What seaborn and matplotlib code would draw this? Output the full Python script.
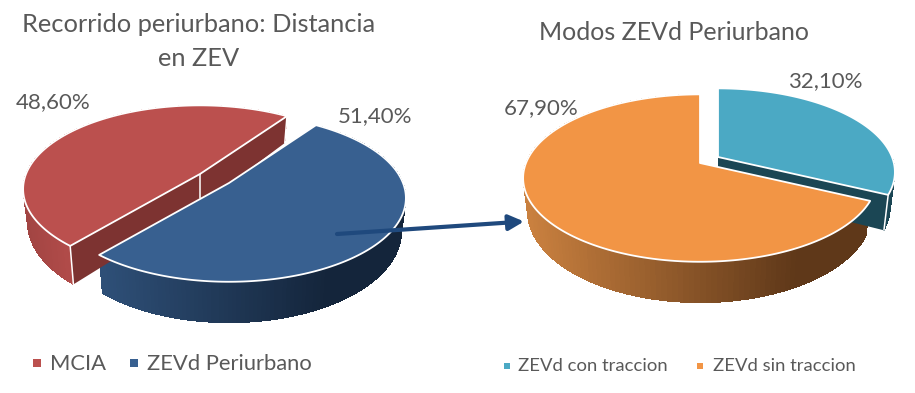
import numpy as np
import seaborn as sns
import matplotlib.pyplot as plt
from matplotlib.patches import Polygon

# Data
left_names = ['MCIA', 'ZEVd Periurbano']
left_values = [48.6, 51.4]
right_names = ['ZEVd con traccion', 'ZEVd sin traccion']
right_values = [32.1, 67.9]

sns.set_theme(style='white')
plt.rcParams['font.family'] = ['Lato', 'DejaVu Sans']

RED, BLUE, TEAL, ORANGE = '#BB504E', '#386090', '#4BA9C4', '#F29545'
GREY = '#595959'

# tilted disc: far side is smaller than near side
A, B, K = 174, 81, 0.18
DEPTH, SCALE_X, SCALE_Y = 32, 0.975, 1.09

fig = plt.figure(figsize=(9.15, 3.93), dpi=100)
ax = fig.add_axes([0, 0, 1, 1])
ax.set_xlim(0, 915)
ax.set_ylim(393, 0)
ax.axis('off')


def top_pt(c, t):
    t = np.radians(t)
    d = 1 + K * np.cos(t)
    return np.column_stack([c[0] + A * np.sin(t) / d, c[1] - B * np.cos(t) / d])


def low_pt(c, t):
    p = top_pt(c, t)
    return np.column_stack([c[0] + (p[:, 0] - c[0]) * SCALE_X,
                            c[1] + DEPTH + (p[:, 1] - c[1]) * SCALE_Y])


def draw_side(c, t0, t1, col_a, col_b, x0, x1):
    ts = np.linspace(t0, t1, 160)
    top, low = top_pt(c, ts), low_pt(c, ts)
    pal = sns.blend_palette([col_a, col_b], 100)
    for i in range(len(ts) - 1):
        f = (top[i, 0] - x0) / (x1 - x0)
        col = pal[int(np.clip(f, 0, 0.99) * 100)]
        # overlap the next strip so no seams show
        j = min(i + 2, len(ts) - 1)
        ax.add_patch(Polygon([top[i], top[j], low[j], low[i]], fc=col, ec='none', antialiased=False, zorder=2))


def draw_cut(c, t, col, zorder=3):
    a, b = top_pt(c, t), low_pt(c, t)
    ax.add_patch(Polygon([c, a[0], b[0], (c[0], c[1] + DEPTH)], fc=col, ec='none', zorder=zorder))
    ax.plot([a[0, 0], b[0, 0]], [a[0, 1], b[0, 1]], color='white', lw=1.1, zorder=zorder)


def draw_top(c, t0, t1, col, zorder=4):
    ts = np.linspace(t0, t1, 200)
    ax.add_patch(Polygon(np.vstack([[c], top_pt(c, ts)]), fc=col, ec='white', lw=1.3, joinstyle='round', zorder=zorder))


def pct(v):
    return f'{v:.2f}%'.replace('.', ',')


# left pie
left_start = 35
t_red = left_start - left_values[0] * 3.6
t_blue = left_start + left_values[1] * 3.6
c_red, c_blue = (200, 174), (229, 183)
draw_side(c_red, t_red, left_start, '#A24543', '#B84E4C', 25, 90)
draw_cut(c_red, t_red, '#7D3331')
draw_cut(c_red, left_start, '#7D3331')
ax.plot([c_red[0], c_red[0]], [c_red[1], c_red[1] + DEPTH - 8], color='white', lw=1.1, zorder=3)
draw_top(c_red, t_red, left_start, RED)
draw_side(c_blue, left_start, t_blue, '#14253B', '#2E4F77', 330, 103)
draw_top(c_blue, left_start, t_blue, BLUE, zorder=5)

# right pie
t_teal = right_values[0] * 3.6
c_orange, c_teal = (700, 163), (718, 157)
draw_side(c_teal, 90, t_teal, '#1B4654', '#1B4654', 0, 1)
draw_cut(c_teal, t_teal, '#1B4654')
draw_top(c_teal, 0, t_teal, TEAL)
draw_side(c_orange, t_teal, 360, '#5F3819', '#C9803F', 800, 527)
draw_top(c_orange, t_teal, 360, ORANGE, zorder=5)

# arrow between the pies
ax.annotate('', xy=(524, 221.5), xytext=(337, 234),
            arrowprops=dict(arrowstyle='-|>,head_length=0.75,head_width=0.38', color='#1F497D', lw=3,
                            shrinkA=0, shrinkB=0), zorder=6)

# text
ax.text(199, 25, 'Recorrido periurbano: Distancia', ha='center', va='center', fontsize=18.3, color=GREY)
ax.text(199, 58, 'en ZEV', ha='center', va='center', fontsize=18.3, color=GREY)
ax.text(674, 33, 'Modos ZEVd Periurbano', ha='center', va='center', fontsize=18, color=GREY)

ax.text(53, 102, pct(left_values[0]), ha='center', va='center', fontsize=16, color=GREY)
ax.text(375, 116, pct(left_values[1]), ha='center', va='center', fontsize=16, color=GREY)
ax.text(541, 108, pct(right_values[1]), ha='center', va='center', fontsize=16, color=GREY)
ax.text(825, 81, pct(right_values[0]), ha='center', va='center', fontsize=16, color=GREY)

# legends
ax.scatter([37, 134], [363, 363], marker='s', s=30, c=[RED, BLUE], linewidths=0)
ax.text(50, 364, left_names[0], va='center', fontsize=15.8, color=GREY)
ax.text(147, 364, left_names[1], va='center', fontsize=15.8, color=GREY)
ax.scatter([507, 700], [366, 366], marker='s', s=16, c=[TEAL, ORANGE], linewidths=0)
ax.text(518, 366, right_names[0], va='center', fontsize=13.3, color=GREY)
ax.text(713, 366, right_names[1], va='center', fontsize=13.3, color=GREY)

fig.savefig('out.png', dpi=100)
